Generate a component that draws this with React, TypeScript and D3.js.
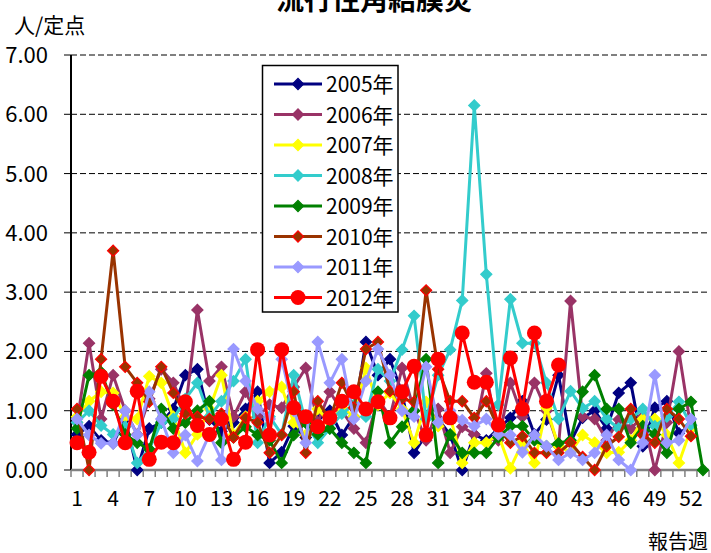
import React from 'react'
import * as d3 from 'd3'

const weeks = d3.range(1, 54)
const tickWeeks = [1, 4, 7, 10, 13, 16, 19, 22, 25, 28, 31, 34, 37, 40, 43, 46, 49, 52]
const yTicks = [0, 1, 2, 3, 4, 5, 6, 7]

const y2005 = [0.6, 0.74, 0.5, 0.45, 0.86, 0.0, 0.7, 0.8, 1.03, 1.6, 1.7, 0.85, 0.65, 0.8, 1.03, 1.32, 0.12, 0.3, 0.74, 0.55, 0.9, 1.0, 0.59, 0.9, 2.16, 1.6, 1.87, 1.3, 0.29, 0.6, 0.86, 0.59, 0.0, 0.6, 0.5, 0.7, 0.88, 1.16, 0.6, 0.85, 1.6, 0.47, 0.88, 1.0, 0.7, 1.3, 1.47, 0.4, 1.05, 1.16, 0.62, 0.75]
const y2006 = [0.8, 2.14, 0.86, 1.6, 1.0, 0.6, 1.2, 1.7, 1.47, 1.0, 2.7, 1.5, 1.74, 0.9, 1.32, 0.9, 1.1, 1.05, 1.4, 1.72, 0.8, 1.32, 1.0, 0.7, 0.46, 1.2, 0.9, 1.72, 1.0, 0.5, 1.03, 0.29, 0.73, 0.6, 1.63, 0.5, 1.47, 0.9, 1.47, 1.0, 0.4, 2.85, 0.9, 0.86, 0.5, 0.85, 0.7, 0.9, 0.0, 0.8, 2.0, 0.7]
const y2007 = [0.9, 1.16, 1.32, 1.3, 0.9, 0.86, 1.58, 1.47, 0.9, 0.29, 0.6, 1.03, 1.6, 0.59, 0.9, 1.16, 1.32, 1.4, 0.8, 0.59, 1.03, 0.8, 1.05, 0.9, 1.72, 1.1, 1.3, 1.03, 0.46, 1.15, 0.74, 0.9, 0.12, 0.46, 0.46, 0.6, 0.03, 0.46, 0.12, 1.05, 0.4, 0.3, 0.59, 0.46, 0.29, 0.3, 0.5, 0.86, 0.86, 0.59, 0.12, 0.7]
const y2008 = [0.8, 1.0, 0.75, 0.6, 0.73, 0.12, 0.35, 0.8, 0.86, 1.2, 1.47, 0.9, 1.16, 1.5, 1.87, 0.46, 0.9, 0.6, 1.6, 0.8, 0.46, 0.7, 0.95, 1.1, 0.9, 1.7, 1.5, 2.03, 2.6, 0.86, 1.6, 2.03, 2.86, 6.15, 3.3, 1.1, 2.88, 2.14, 2.14, 1.47, 0.86, 1.33, 1.04, 1.16, 0.86, 0.7, 0.86, 1.03, 0.74, 0.9, 1.15, 0.76]
const y2009 = [0.7, 1.6, 1.65, 1.1, 0.6, 0.46, 0.35, 1.03, 0.7, 0.8, 1.0, 1.16, 0.46, 0.55, 0.73, 0.59, 0.5, 0.12, 0.59, 0.8, 0.6, 0.7, 0.46, 0.29, 0.12, 1.32, 0.46, 0.73, 1.0, 1.87, 0.12, 0.6, 0.29, 0.29, 0.29, 0.55, 0.74, 0.74, 0.5, 0.4, 0.45, 0.5, 1.32, 1.6, 1.03, 1.03, 0.46, 0.74, 0.6, 0.29, 1.03, 1.15, 0.0]
const y2010 = [1.03, 0.0, 1.87, 3.7, 1.74, 1.47, 1.15, 1.74, 1.3, 0.95, 0.9, 0.86, 0.95, 0.55, 0.88, 0.8, 0.29, 0.59, 1.32, 0.29, 1.16, 0.85, 1.47, 1.05, 2.04, 2.16, 1.33, 1.2, 1.15, 3.03, 1.7, 1.16, 1.16, 0.88, 1.16, 0.7, 0.46, 0.57, 0.29, 0.29, 0.29, 0.46, 0.22, 0.0, 0.4, 0.56, 1.03, 0.59, 0.46, 1.03, 0.86, 0.57]
const y2011 = [0.86, 0.59, 0.45, 0.45, 1.0, 0.59, 1.32, 0.86, 0.29, 0.59, 0.15, 0.6, 0.17, 2.04, 1.5, 1.03, 0.86, 1.87, 1.0, 0.46, 2.16, 1.47, 1.87, 0.86, 1.5, 2.04, 1.6, 1.0, 0.9, 1.74, 0.8, 1.0, 0.84, 0.74, 0.86, 0.6, 0.59, 0.3, 0.59, 0.4, 0.17, 0.29, 0.17, 0.29, 0.59, 0.17, 0.0, 0.46, 1.6, 0.46, 0.5, 0.86]
const y2012 = [0.46, 0.3, 1.58, 1.16, 0.46, 1.33, 0.18, 0.47, 0.46, 1.15, 0.75, 0.6, 0.86, 0.18, 0.47, 2.03, 0.59, 2.03, 1.05, 0.9, 0.73, 0.88, 1.16, 1.32, 1.03, 1.15, 0.88, 1.32, 1.75, 0.59, 1.87, 0.88, 2.31, 1.48, 1.48, 0.76, 1.89, 1.03, 2.31, 1.16, 1.77]

const series = [
  { name: '2005年', values: y2005, line: '#000080', fill: '#000080', stroke: '#000080', marker: 'diamond' },
  { name: '2006年', values: y2006, line: '#993366', fill: '#993366', stroke: '#993366', marker: 'diamond' },
  { name: '2007年', values: y2007, line: '#FFFF00', fill: '#FFFF00', stroke: '#FFFF00', marker: 'diamond' },
  { name: '2008年', values: y2008, line: '#33CCCC', fill: '#33CCCC', stroke: '#33CCCC', marker: 'diamond' },
  { name: '2009年', values: y2009, line: '#008000', fill: '#008000', stroke: '#008000', marker: 'diamond' },
  { name: '2010年', values: y2010, line: '#993300', fill: '#993300', stroke: '#FF0000', marker: 'diamond' },
  { name: '2011年', values: y2011, line: '#9999FF', fill: '#9999FF', stroke: '#9999FF', marker: 'diamond' },
  { name: '2012年', values: y2012, line: '#FF0000', fill: '#FF0000', stroke: '#FF0000', marker: 'circle' },
]

const W = 711
const H = 553
const left = 71
const right = 709
const top = 55
const bottom = 470
const font = "'Liberation Sans Narrow', 'Noto Sans CJK JP', sans-serif"

const x = d3.scaleBand<number>().domain(weeks).range([left, right])
const y = d3.scaleLinear().domain([0, 7]).range([bottom, top])
const cx = (w: number) => (x(w) ?? 0) + x.bandwidth() / 2

const diamond = d3.symbol(d3.symbolSquare, 62)()

const Marker = ({ s, px, py }: any) =>
  s.marker === 'circle'
    ? <circle cx={px} cy={py} r={7.5} fill={s.fill} />
    : <path d={diamond ?? ''} transform={`translate(${px},${py}) rotate(45)`} fill={s.fill} stroke={s.stroke} strokeWidth={1.2} />

export default function App() {
  const line = d3.line<number>()
    .x((d, i) => cx(i + 1))
    .y((d) => y(d))

  return (
    <svg width={W} height={H} style={{ position: 'absolute', left: 0, top: 0, background: '#fff' }}>
      <text x={374} y={10} textAnchor="middle" fontSize={28} fontWeight="bold" fontFamily="'Noto Sans CJK JP'">流行性角結膜炎</text>
      <text x={14} y={33} fontSize={21} fontFamily={font}>人/定点</text>

      {/* grid */}
      {yTicks.filter((t) => t > 0).map((t) => (
        <line key={t} x1={left} x2={right} y1={y(t)} y2={y(t)} stroke="#000" strokeWidth={1} strokeDasharray="6,3" />
      ))}

      {/* y axis */}
      <line x1={left} x2={left} y1={top} y2={bottom} stroke="#000" strokeWidth={2} />
      {yTicks.map((t) => (
        <g key={t}>
          <line x1={left - 7} x2={left} y1={y(t)} y2={y(t)} stroke="#000" strokeWidth={1} />
          <text x={48} y={y(t) + 8} textAnchor="end" fontSize={22} fontFamily={font}>{t.toFixed(2)}</text>
        </g>
      ))}

      {/* x axis */}
      {weeks.map((w) => (
        <line key={w} x1={x(w) ?? 0} x2={x(w) ?? 0} y1={bottom} y2={bottom + 7} stroke="#808080" strokeWidth={1.5} />
      ))}
      <line x1={right} x2={right} y1={bottom} y2={bottom + 7} stroke="#808080" strokeWidth={1.5} />
      <line x1={left} x2={right} y1={bottom} y2={bottom} stroke="#808080" strokeWidth={2.5} />
      {tickWeeks.map((w) => (
        <text key={w} x={cx(w)} y={506} textAnchor="middle" fontSize={21} fontFamily={font}>{w}</text>
      ))}
      <text x={708} y={549} textAnchor="end" fontSize={20} fontFamily={font}>報告週</text>

      {/* series */}
      {series.map((s) => (
        <g key={s.name}>
          <path d={line(s.values) ?? ''} fill="none" stroke={s.line} strokeWidth={3} strokeLinejoin="round" />
          {s.values.map((v, i) => (
            <Marker key={i} s={s} px={cx(i + 1)} py={y(v)} />
          ))}
        </g>
      ))}

      {/* legend */}
      <rect x={262.5} y={65.5} width={135.5} height={246.5} fill="#fff" stroke="#000" strokeWidth={1.5} />
      {series.map((s, i) => {
        const ly = 84 + i * 30.5
        return (
          <g key={s.name}>
            <line x1={274} x2={322} y1={ly} y2={ly} stroke={s.line} strokeWidth={3} />
            <Marker s={s} px={298} py={ly} />
            <text x={326} y={ly + 8} fontSize={21} fontFamily={font}>{s.name}</text>
          </g>
        )
      })}
    </svg>
  )
}
